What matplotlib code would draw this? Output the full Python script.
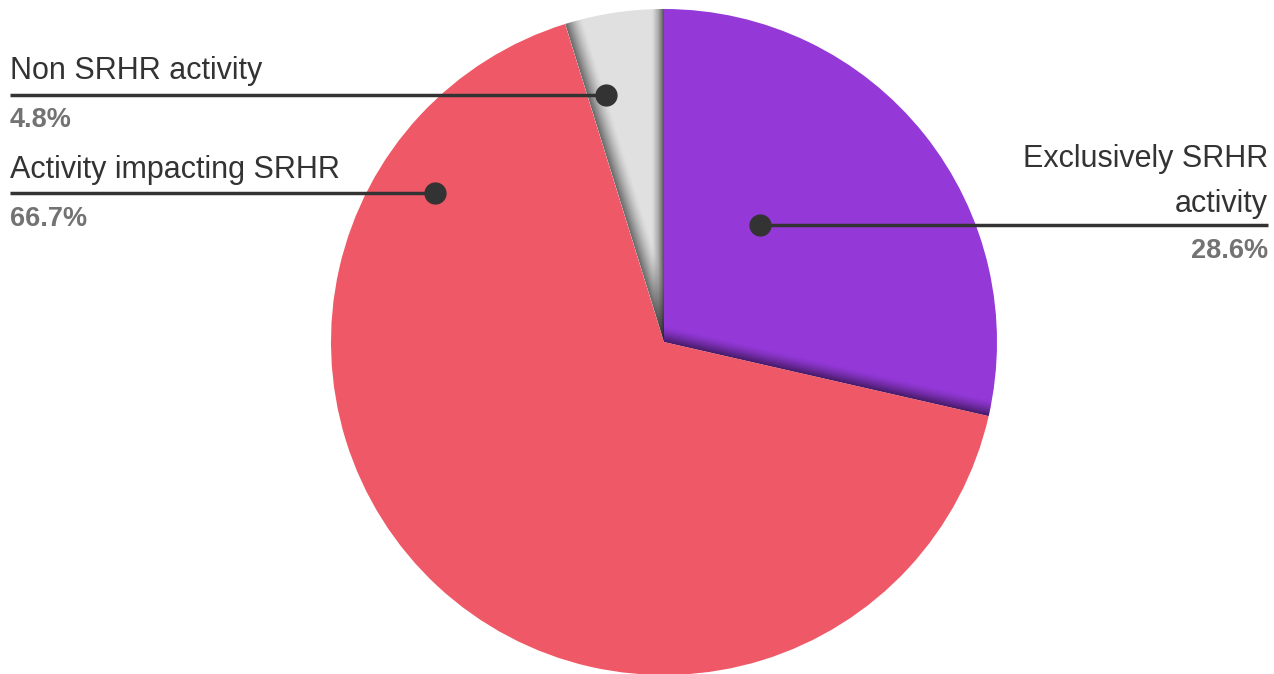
import numpy as np
import matplotlib
matplotlib.use("Agg")
import matplotlib.pyplot as plt
from matplotlib.patches import Polygon

# data
labels = ["Exclusively SRHR\nactivity", "Activity impacting SRHR", "Non SRHR activity"]
shares = [28.6, 66.7, 4.8]
pct_labels = ["28.6%", "66.7%", "4.8%"]
colors = ["#9439D8", "#EF5866", "#E0E0E0"]

W, H = 1274, 674
fig = plt.figure(figsize=(W / 100, H / 100), dpi=100)
ax = fig.add_axes([0, 0, 1, 1])

cx, cy, rad = 664, 332, 333
wedges, _ = ax.pie(shares, colors=colors, startangle=90, counterclock=False,
                   center=(cx, cy), radius=rad, frame=True,
                   wedgeprops=dict(linewidth=0, antialiased=True))
ax.set_xlim(0, W)
ax.set_ylim(0, H)
ax.set_aspect("equal")
ax.axis("off")

# soft shadows along slice edges: (wedge receiving shadow, boundary angle, side, width px)
tot = sum(shares)
a_top = 90.0
a_pr = 90.0 - 360.0 * shares[0] / tot
a_rg = 90.0 - 360.0 * (shares[0] + shares[1]) / tot + 360.0
shadows = [(2, a_top, 1, 13), (0, a_pr, 1, 16), (2, a_rg, -1, 18)]
c = np.array([cx, cy])
for idx, ang, side, width in shadows:
    t = np.radians(ang)
    u = np.array([np.cos(t), np.sin(t)])
    n = side * np.array([-np.sin(t), np.cos(t)])
    steps = 24
    for k in range(steps):
        d0 = width * k / steps
        d1 = width * (k + 1) / steps
        a = 0.6 * (1 - k / steps) ** 1.6
        pts = [c + d0 * n - 5 * u, c + d1 * n - 5 * u,
               c + d1 * n + 1.3 * rad * u, c + d0 * n + 1.3 * rad * u]
        p = Polygon(pts, closed=True, facecolor="black", alpha=a, linewidth=0)
        ax.add_patch(p)
        p.set_clip_path(wedges[idx])

font = "Liberation Sans"
txt_col = "#333333"
pct_col = "#737373"
line_col = "#333333"
fs_lab, fs_pct = 22, 19.5

def leader(x0, x1, y, dot_x):
    ax.plot([x0, x1], [H - y, H - y], color=line_col, lw=2.5, solid_capstyle="butt")
    ax.plot(dot_x, H - y, "o", color=line_col, ms=15)

# left labels: Non SRHR, Activity impacting
leader(10, 606, 95, 606)
ax.text(10, H - 79, labels[2], ha="left", va="baseline", fontsize=fs_lab,
        color=txt_col, family=font)
ax.text(10, H - 127, pct_labels[2], ha="left", va="baseline", fontsize=fs_pct,
        color=pct_col, family=font, fontweight="bold")

leader(10, 435, 193, 435)
ax.text(10, H - 178, labels[1], ha="left", va="baseline", fontsize=fs_lab,
        color=txt_col, family=font)
ax.text(10, H - 226, pct_labels[1], ha="left", va="baseline", fontsize=fs_pct,
        color=pct_col, family=font, fontweight="bold")

# right label
leader(760, 1268, 225, 760)
for i, line in enumerate(labels[0].split("\n")):
    ax.text(1268, H - 167 - 45 * i, line, ha="right", va="baseline", fontsize=fs_lab,
            color=txt_col, family=font)
ax.text(1268, H - 258, pct_labels[0], ha="right", va="baseline", fontsize=fs_pct,
        color=pct_col, family=font, fontweight="bold")

fig.savefig("out.png", dpi=100, facecolor="white")
